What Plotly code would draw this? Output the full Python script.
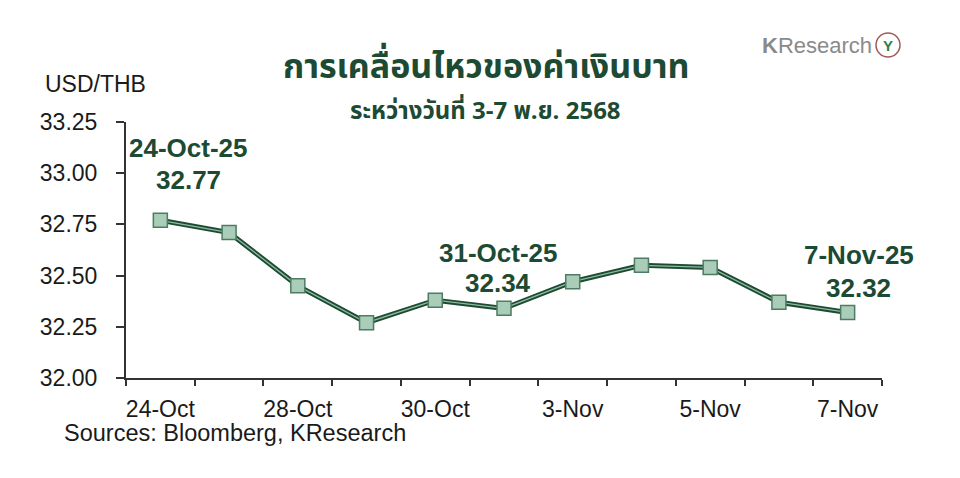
import plotly.graph_objects as go

dates = ["24-Oct", "27-Oct", "28-Oct", "29-Oct", "30-Oct", "31-Oct",
         "3-Nov", "4-Nov", "5-Nov", "6-Nov", "7-Nov"]
usd_thb = [32.77, 32.71, 32.45, 32.27, 32.38, 32.34, 32.47, 32.55, 32.54, 32.37, 32.32]
label_idx = [0, 5, 10]
label_text = ["24-Oct-25", "31-Oct-25", "7-Nov-25"]
# (xshift, yshift of date line, yshift of value line)
label_shift = [(28, 72, 40), (-6, 55, 25), (11, 57, 24)]
y_ticks = [32.00, 32.25, 32.50, 32.75, 33.00, 33.25]
x_tick_idx = [0, 2, 4, 6, 8, 10]

DARK = "#1d4a33"
FONT = "Liberation Sans, Arial, sans-serif"
W, H = 960, 478
L, R, T, B = 126, 78, 122, 100
PW, PH = W - L - R, H - T - B


def px(x):
    return (x - L) / PW


def py(y):
    return (H - B - y) / PH


xs = list(range(len(dates)))

fig = go.Figure()
fig.add_trace(go.Scatter(x=xs, y=usd_thb, mode="lines",
                         line=dict(color=DARK, width=5), hoverinfo="skip"))
fig.add_trace(go.Scatter(x=xs, y=usd_thb, mode="lines+markers",
                         line=dict(color="#8dbb9f", width=1.3),
                         marker=dict(symbol="square", size=14, color="#a9cdb8",
                                     line=dict(color="#4e7c62", width=1.5)),
                         customdata=dates,
                         hovertemplate="%{customdata}: %{y:.2f}<extra></extra>"))

for i, t, (dx, dy1, dy2) in zip(label_idx, label_text, label_shift):
    for txt, dy in ((t, dy1), (f"{usd_thb[i]:.2f}", dy2)):
        fig.add_annotation(x=i, y=usd_thb[i], xref="x", yref="y",
                           text=f"<b>{txt}</b>", showarrow=False,
                           xshift=dx, yshift=dy, yanchor="middle",
                           font=dict(family=FONT, size=26, color=DARK))

for x, y, text, size in [(486, 67, "<b>การเคลื่อนไหวของค่าเงินบาท</b>", 34),
                         (485, 112, "<b>ระหว่างวันที่ 3-7 พ.ย. 2568</b>", 24)]:
    fig.add_annotation(x=px(x), y=py(y), xref="paper", yref="paper",
                       text=text, showarrow=False, xanchor="center", yanchor="middle",
                       font=dict(family="Noto Sans Thai, Noto Sans, sans-serif",
                                 size=size, color=DARK))

fig.update_layout(
    width=W, height=H,
    margin=dict(l=L, r=R, t=T, b=B, autoexpand=False),
    paper_bgcolor="white", plot_bgcolor="white",
    showlegend=False,
    font=dict(family=FONT, size=23, color="#1a1a1a"),
    xaxis=dict(range=[-0.5, 10.5], tickmode="array", tickvals=x_tick_idx,
               ticktext=[dates[i] for i in x_tick_idx], ticks="", showgrid=False,
               zeroline=False, showline=True, linecolor="#333", linewidth=2,
               ticklabelstandoff=9, tickfont=dict(size=23), automargin=False,
               minor=dict(tickmode="linear", tick0=-0.5, dtick=1, ticks="outside",
                          ticklen=6, tickcolor="#333", tickwidth=2, showgrid=False)),
    yaxis=dict(range=[32.0, 33.25], tickmode="array", tickvals=y_ticks,
               ticktext=[f"{v:.2f}" for v in y_ticks], ticks="outside", ticklen=8,
               tickcolor="#333", tickwidth=2, showgrid=False, zeroline=False,
               showline=True, linecolor="#333", linewidth=2, ticklabelstandoff=14,
               tickfont=dict(size=23), automargin=False),
)

fig.add_annotation(x=px(43), y=py(84), xref="paper", yref="paper", text="USD/THB",
                   showarrow=False, xanchor="left", yanchor="middle",
                   font=dict(family=FONT, size=23, color="#1a1a1a"))
fig.add_annotation(x=px(62), y=py(433), xref="paper", yref="paper",
                   text="Sources: Bloomberg, KResearch", showarrow=False,
                   xanchor="left", yanchor="middle",
                   font=dict(family=FONT, size=23.5, color="#1a1a1a"))
fig.add_annotation(x=px(874), y=py(45), xref="paper", yref="paper",
                   text="<b>K</b>Research", showarrow=False, xanchor="right",
                   yanchor="middle", font=dict(family=FONT, size=22, color="#8a8a8a"))
fig.add_shape(type="circle", xref="paper", yref="paper",
              x0=px(876), x1=px(900), y0=py(57), y1=py(33),
              line=dict(color="#a05a5a", width=1.5), fillcolor="white")
fig.add_annotation(x=px(888), y=py(45), xref="paper", yref="paper",
                   text="<b>Y</b>", showarrow=False, xanchor="center", yanchor="middle",
                   font=dict(family=FONT, size=15, color="#2e7d4f"))

fig.write_html("out.html", config={"displayModeBar": False},
               post_script="document.body.style.margin='0';document.body.style.overflow='hidden';")
